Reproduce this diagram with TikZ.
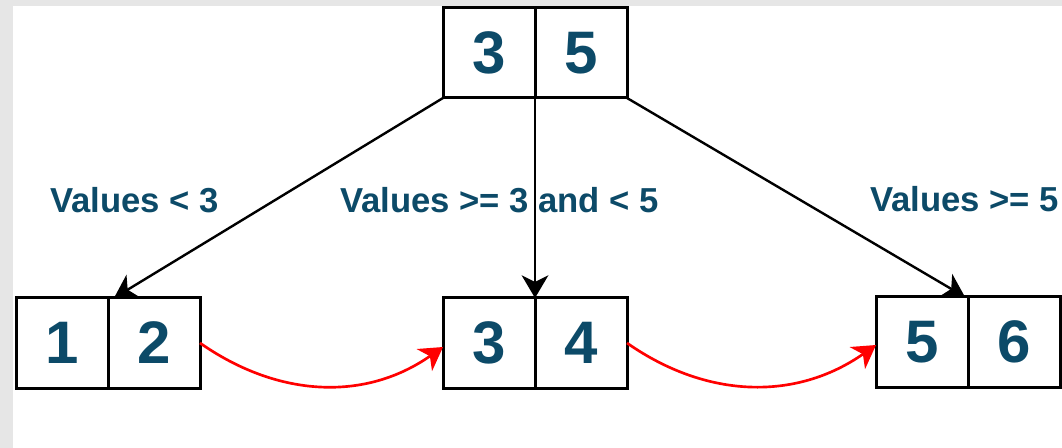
\documentclass[tikz,border=0pt]{standalone}
\usepackage{fontspec}
\setmainfont{Liberation Sans}
\usepackage{xcolor}
\usetikzlibrary{arrows.meta}
\definecolor{valtext}{RGB}{12,74,104}
\definecolor{canvasgray}{RGB}{230,230,230}

\begin{document}
\begin{tikzpicture}[x={(0.75pt,0)},y={(0,-0.75pt)},every node/.style={outer sep=0pt, text=valtext},
  cell/.style={draw=black, line width=2.25pt, fill=white, minimum width=69pt, minimum height=67.5pt, inner sep=0pt, font=\fontsize{45}{50}\selectfont\bfseries},
  lbl/.style={anchor=base west, inner sep=0pt, font=\fontsize{26}{30}\selectfont\bfseries},
  down/.style={draw=black, line width=1.8pt, -{Stealth[length=17pt,width=20pt,inset=5pt]}},
  link/.style={draw=red, line width=2pt, -{Stealth[length=17pt,width=20pt,inset=5pt]}}]
\useasboundingbox (0,0) rectangle (1062,448);
\fill[canvasgray] (0,0) rectangle (1062,448);
\fill[white] (13,6) rectangle (1062,448);
% root
\node[cell] (t1) at (489,53) {3};
\node[cell] (t2) at (581,53) {5};
% leaves
\node[cell] (a1) at (62,343) {1};
\node[cell] (a2) at (154,343) {2};
\node[cell] (b1) at (489,343) {3};
\node[cell] (b2) at (581,343) {4};
\node[cell] (c1) at (922,342) {5};
\node[cell] (c2) at (1014,342) {6};
% ranges
\node[lbl] (lt) at (50,213) {Values < 3};
\node[lbl] (lm) at (340,213) {Values >= 3 and < 5};
\node[lbl] (lg) at (870,212) {Values >= 5};
\draw[down] (t1.south west) -- ([xshift=4.5pt]a2.north west);
\draw[down] (t1.south east) -- (b1.north east);
\draw[down] (t2.south east) -- ([xshift=-2.25pt]c1.north east);
\draw[link] (a2.east) to[out=-35,in=-145] ([yshift=-3pt]b1.west);
\draw[link] (b2.east) to[out=-35,in=-145] ([yshift=-2.25pt]c1.west);
\end{tikzpicture}
\end{document}
